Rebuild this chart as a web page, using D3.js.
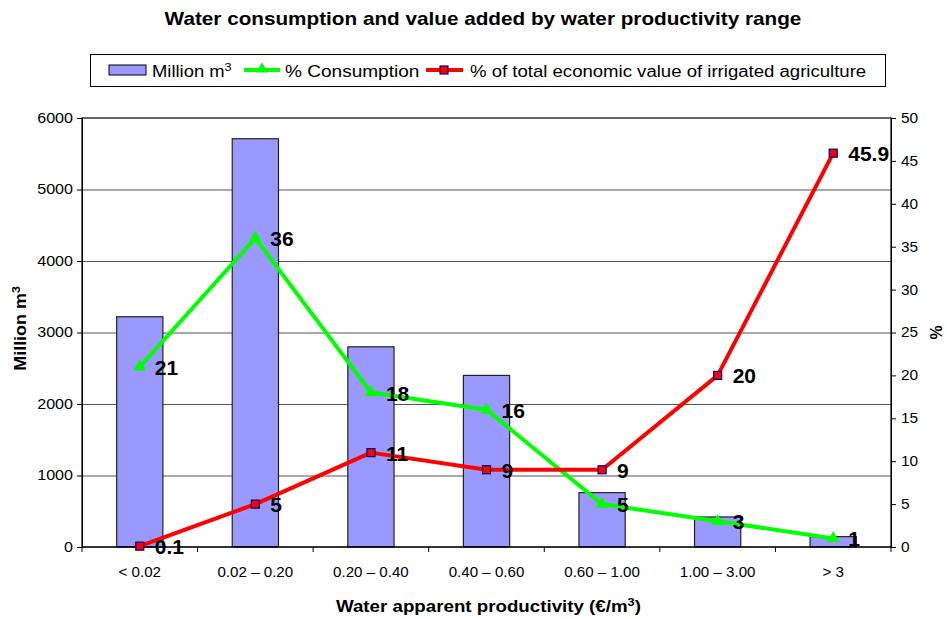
<!DOCTYPE html>
<html>
<head>
<meta charset="utf-8">
<script src="https://cdn.jsdelivr.net/npm/d3@7"></script>
<style>
  html, body { margin: 0; padding: 0; background: #fff; }
  svg { display: block; font-family: "Liberation Sans", Arial, sans-serif; }
</style>
</head>
<body>
<svg id="chart" width="947" height="619"></svg>
<script>
// Water productivity ranges (€/m³)
const categories = ["< 0.02", "0.02 – 0.20", "0.20 – 0.40", "0.40 – 0.60", "0.60 – 1.00", "1.00 – 3.00", "> 3"];
// Water consumed in each range, million m³
const volumeMm3 = [3220, 5710, 2800, 2400, 760, 420, 145];
// Share of total consumption, %
const consumptionPct = [21, 36, 18, 16, 5, 3, 1];
// Share of total economic value of irrigated agriculture, %
const valuePct = [0.1, 5, 11, 9, 9, 20, 45.9];
// Axis ticks
const leftTicks = [0, 1000, 2000, 3000, 4000, 5000, 6000];
const rightTicks = [0, 5, 10, 15, 20, 25, 30, 35, 40, 45, 50];

const svg = d3.select("#chart");
const m = { left: 82, right: 891, top: 118, bottom: 547 };

// Widen text horizontally by factor k (the chart uses a broad sans face)
function widen(sel, k) {
  sel.each(function () {
    const w = this.getComputedTextLength();
    d3.select(this).attr("textLength", w * k).attr("lengthAdjust", "spacingAndGlyphs");
  });
}

const x = d3.scaleBand().domain(categories).range([m.left, m.right]).paddingInner(0).paddingOuter(0);
const yL = d3.scaleLinear().domain([0, 6000]).range([m.bottom, m.top]);
const yR = d3.scaleLinear().domain([0, 50]).range([m.bottom, m.top]);
const cx = d => x(d) + x.bandwidth() / 2;

// Title
svg.append("text")
  .attr("x", 483).attr("y", 25)
  .attr("text-anchor", "middle")
  .attr("font-size", 19).attr("font-weight", "bold")
  .text("Water consumption and value added by water productivity range")
  .call(widen, 1.09);

// Gridlines
svg.append("g").selectAll("line")
  .data(leftTicks.filter(t => t > 0 && t < 6000))
  .join("line")
  .attr("x1", m.left).attr("x2", m.right)
  .attr("y1", d => yL(d) + 0.5).attr("y2", d => yL(d) + 0.5)
  .attr("stroke", "#555").attr("stroke-width", 1);

// Bars
const barW = x.bandwidth() * 0.4;
svg.append("g").selectAll("rect")
  .data(categories)
  .join("rect")
  .attr("x", d => cx(d) - barW / 2)
  .attr("y", (d, i) => yL(volumeMm3[i]))
  .attr("width", barW)
  .attr("height", (d, i) => yL(0) - yL(volumeMm3[i]))
  .attr("fill", "#9999ff")
  .attr("stroke", "#222").attr("stroke-width", 1.2);

// Plot frame
svg.append("rect")
  .attr("x", m.left).attr("y", m.top)
  .attr("width", m.right - m.left).attr("height", m.bottom - m.top)
  .attr("fill", "none").attr("stroke", "#000").attr("stroke-width", 1.2);

// Left axis
const gL = svg.append("g").attr("transform", `translate(${m.left},0)`)
  .call(d3.axisLeft(yL).tickValues(leftTicks).tickSize(5).tickPadding(4).tickFormat(d3.format("d")));
gL.select(".domain").attr("stroke", "#000");
gL.selectAll("text").attr("font-size", 14).attr("font-family", "Liberation Sans, Arial, sans-serif").attr("fill", "#000")
  .call(widen, 1.15);

// Right axis
const gR = svg.append("g").attr("transform", `translate(${m.right},0)`)
  .call(d3.axisRight(yR).tickValues(rightTicks).tickSize(5).tickPadding(5));
gR.select(".domain").attr("stroke", "#000");
gR.selectAll("text").attr("font-size", 14).attr("font-family", "Liberation Sans, Arial, sans-serif").attr("fill", "#000")
  .call(widen, 1.1);

// Bottom axis: ticks on category boundaries
const gB = svg.append("g").attr("transform", `translate(0,${m.bottom})`);
gB.append("line").attr("x1", m.left).attr("x2", m.right).attr("stroke", "#000");
gB.selectAll("line.tick")
  .data(d3.range(categories.length + 1))
  .join("line").attr("class", "tick")
  .attr("x1", i => m.left + i * x.step()).attr("x2", i => m.left + i * x.step())
  .attr("y1", 0).attr("y2", 5).attr("stroke", "#000");
gB.selectAll("text")
  .data(categories)
  .join("text")
  .attr("x", d => cx(d)).attr("y", 30)
  .attr("text-anchor", "middle")
  .attr("font-size", 14)
  .text(d => d)
  .call(widen, 1.08);

// Axis titles
svg.append("text")
  .attr("transform", `translate(26,${(m.top + m.bottom) / 2 - 4}) rotate(-90)`)
  .attr("text-anchor", "middle").attr("font-size", 16).attr("font-weight", "bold")
  .html('Million m<tspan font-size="11" dy="-6">3</tspan>')
  .call(widen, 1.12);
svg.append("text")
  .attr("transform", `translate(942,${(m.top + m.bottom) / 2}) rotate(-90)`)
  .attr("text-anchor", "middle").attr("font-size", 16).attr("font-weight", "bold")
  .text("%");
svg.append("text")
  .attr("x", (m.left + m.right) / 2 + 2).attr("y", 612)
  .attr("text-anchor", "middle").attr("font-size", 16).attr("font-weight", "bold")
  .html('Water apparent productivity (€/m<tspan font-size="11" dy="-6">3</tspan><tspan dy="6">)</tspan>')
  .call(widen, 1.17);

// Lines
const line = d3.line().x(d => cx(d.c)).y(d => yR(d.v));
const consData = categories.map((c, i) => ({ c, v: consumptionPct[i] }));
const valData = categories.map((c, i) => ({ c, v: valuePct[i] }));

svg.append("path").datum(consData)
  .attr("d", line).attr("fill", "none")
  .attr("stroke", "#00ff00").attr("stroke-width", 4).attr("stroke-linejoin", "round");
svg.append("g").selectAll("path")
  .data(consData).join("path")
  .attr("transform", d => `translate(${cx(d.c)},${yR(d.v)})`)
  .attr("d", d3.symbol(d3.symbolTriangle, 70))
  .attr("fill", "#00ff00");

svg.append("path").datum(valData)
  .attr("d", line).attr("fill", "none")
  .attr("stroke", "#ff0000").attr("stroke-width", 4).attr("stroke-linejoin", "round");
svg.append("g").selectAll("rect")
  .data(valData).join("rect")
  .attr("x", d => cx(d.c) - 4).attr("y", d => yR(d.v) - 4)
  .attr("width", 8).attr("height", 8)
  .attr("fill", "#ff0000").attr("stroke", "#000080").attr("stroke-width", 1.2);

// Data labels
const labels = svg.append("g").attr("font-size", 21).attr("font-weight", "bold");
labels.selectAll("text.c")
  .data(consData).join("text").attr("class", "c")
  .attr("x", d => cx(d.c) + 15).attr("y", d => yR(d.v) + 8)
  .text(d => d.v);
labels.selectAll("text.v")
  .data(valData).join("text").attr("class", "v")
  .attr("x", d => cx(d.c) + 15).attr("y", d => yR(d.v) + 8)
  .text(d => d.v);

// Legend
const lg = svg.append("g");
lg.append("rect").attr("x", 90.5).attr("y", 54.5).attr("width", 795).attr("height", 32)
  .attr("fill", "#fff").attr("stroke", "#000").attr("stroke-width", 1);
lg.append("rect").attr("x", 109).attr("y", 65).attr("width", 37).attr("height", 10)
  .attr("fill", "#9999ff").attr("stroke", "#000").attr("stroke-width", 1);
lg.append("text").attr("x", 152).attr("y", 77).attr("font-size", 16)
  .html('Million m<tspan font-size="11" dy="-6">3</tspan>')
  .call(widen, 1.15);
lg.append("line").attr("x1", 244).attr("x2", 280).attr("y1", 70).attr("y2", 70)
  .attr("stroke", "#00ff00").attr("stroke-width", 4);
lg.append("path").attr("transform", "translate(262,69)").attr("d", d3.symbol(d3.symbolTriangle, 60)).attr("fill", "#00ff00");
lg.append("text").attr("x", 285).attr("y", 77).attr("font-size", 16).text("% Consumption")
  .call(widen, 1.19);
lg.append("line").attr("x1", 426).attr("x2", 463).attr("y1", 70).attr("y2", 70)
  .attr("stroke", "#ff0000").attr("stroke-width", 4);
lg.append("rect").attr("x", 440).attr("y", 66).attr("width", 8).attr("height", 8)
  .attr("fill", "#ff0000").attr("stroke", "#000080").attr("stroke-width", 1.2);
lg.append("text").attr("x", 470).attr("y", 77).attr("font-size", 16).text("% of total economic value of irrigated agriculture")
  .call(widen, 1.16);
</script>
</body>
</html>
